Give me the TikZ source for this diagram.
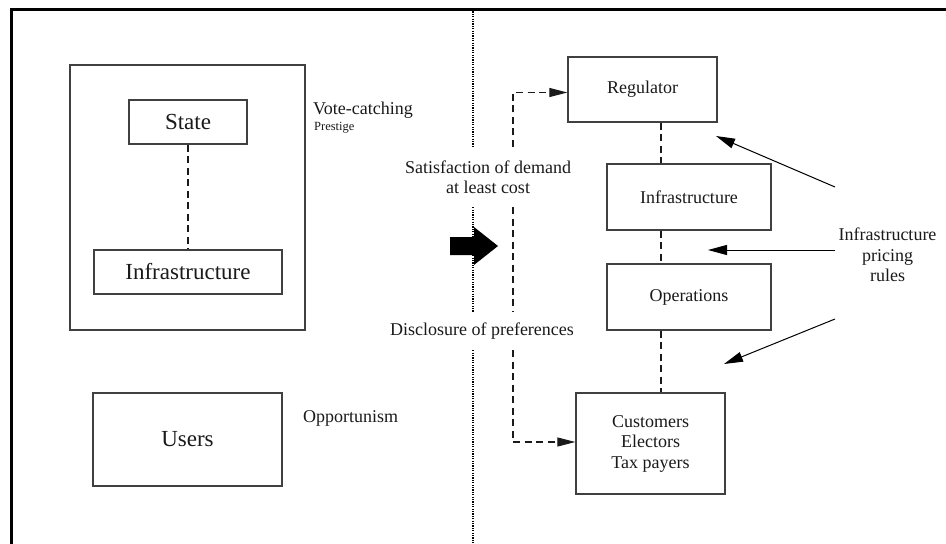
\documentclass[tikz,border=0pt]{standalone}
\usepackage{fontspec}
\setmainfont{Liberation Serif}
\usetikzlibrary{arrows.meta,calc}
\definecolor{boxgray}{HTML}{404040}
\definecolor{ink}{HTML}{1A1A1A}
\begin{document}
\begin{tikzpicture}[x=1pt,y=-1pt,
  box/.style={draw=boxgray,line width=1.3pt,inner sep=0pt,align=center,text=ink},
  big/.style={font=\fontsize{23}{26}\selectfont},
  med/.style={font=\fontsize{18}{20.5}\selectfont},
  small/.style={font=\fontsize{12.5}{14}\selectfont},
  lbl/.style={inner sep=0pt,text=ink,align=center},
  dashconn/.style={draw=ink,line width=1.1pt,dash pattern=on 7pt off 4.5pt},
  dotline/.style={draw=black,line width=1.1pt,dash pattern=on 1.1pt off 1.3pt},
  tipd/.style={-{Triangle[length=18pt,width=9pt]}},
  solidarrow/.style={draw=black,line width=1pt,-{Triangle[length=19pt,width=10pt]}}
]
\useasboundingbox (0,0) rectangle (946,544);
\fill[white] (0,0) rectangle (946,544);
% frame
\draw[line width=3pt,black] (946,9) -- (11,9) -- (11,544);

% left side
\node[box,minimum width=235pt,minimum height=265pt] (outer) at (187.5,197.5) {};
\node[box,big,minimum width=118pt,minimum height=44pt] (state) at (188,122) {State};
\node[box,big,minimum width=188pt,minimum height=44pt] (infraL) at (188,272) {Infrastructure};
\node[box,big,minimum width=189pt,minimum height=93pt] (users) at (187.5,439.5) {Users};
\node[lbl,med,anchor=west] (vote) at (313,110) {Vote-catching};
\node[lbl,small,anchor=west] (prestige) at (314,127.5) {Prestige};
\node[lbl,med,anchor=west] (opp) at (303,418) {Opportunism};
\draw[dashconn] (state) -- (infraL);

% middle texts
\coordinate (dotx) at (473,0);
\coordinate (dashx) at (513,0);
\coordinate (dottop) at (473,9);
\coordinate (dotbot) at (473,544);
\node[lbl,med,minimum height=60pt] (sat) at (488,177) {Satisfaction of demand\\at least cost};
\node[lbl,med,minimum height=38pt] (dis) at (482,331) {Disclosure of preferences};

% right boxes
\node[box,med,minimum width=149pt,minimum height=65pt] (reg) at (642.5,89.5) {Regulator};
\node[box,med,minimum width=164pt,minimum height=66pt] (infraR) at (689,197) {Infrastructure};
\node[box,med,minimum width=164pt,minimum height=66pt] (ops) at (689,297) {Operations};
\node[box,med,minimum width=149pt,minimum height=101pt] (cust) at (650.5,443.5) {Customers\\Electors\\Tax payers};
\node[lbl,med] (pricing) at (887.5,255) {Infrastructure\\pricing\\rules};

% dotted divider
\draw[dotline] (dottop) -- (sat.north -| dotx);
\draw[dotline] (sat.south -| dotx) -- (dis.north -| dotx);
\draw[dotline] (dis.south -| dotx) -- (dotbot);

% big arrow
\fill[black] (450,237) -- (474,237) -- (474,227) -- (498,246) -- (474,265) -- (474,255) -- (450,255) -- cycle;

% dashed feedback path
\draw[dashconn,tipd] (sat.north -| dashx) |- ([yshift=-3pt]reg.west);
\draw[dashconn] (sat.south -| dashx) -- (dis.north -| dashx);
\draw[dashconn,tipd] (dis.south -| dashx) |- ([yshift=1.5pt]cust.west);

% dashed vertical chain
\coordinate (chainx) at (661,0);
\draw[dashconn] (reg.south -| chainx) -- (infraR.north -| chainx);
\draw[dashconn] (infraR.south -| chainx) -- (ops.north -| chainx);
\draw[dashconn] (ops.south -| chainx) -- (cust.north -| chainx);

% pricing arrows
\coordinate (p1) at (835,187);
\coordinate (p2) at (835,250);
\coordinate (p3) at (835,319);
\coordinate (t1) at (716,136);
\coordinate (t2) at (708,250);
\coordinate (t3) at (724,364);
\draw[solidarrow] (p1) -- (t1);
\draw[solidarrow] (p2) -- (t2);
\draw[solidarrow] (p3) -- (t3);
\end{tikzpicture}
\end{document}
